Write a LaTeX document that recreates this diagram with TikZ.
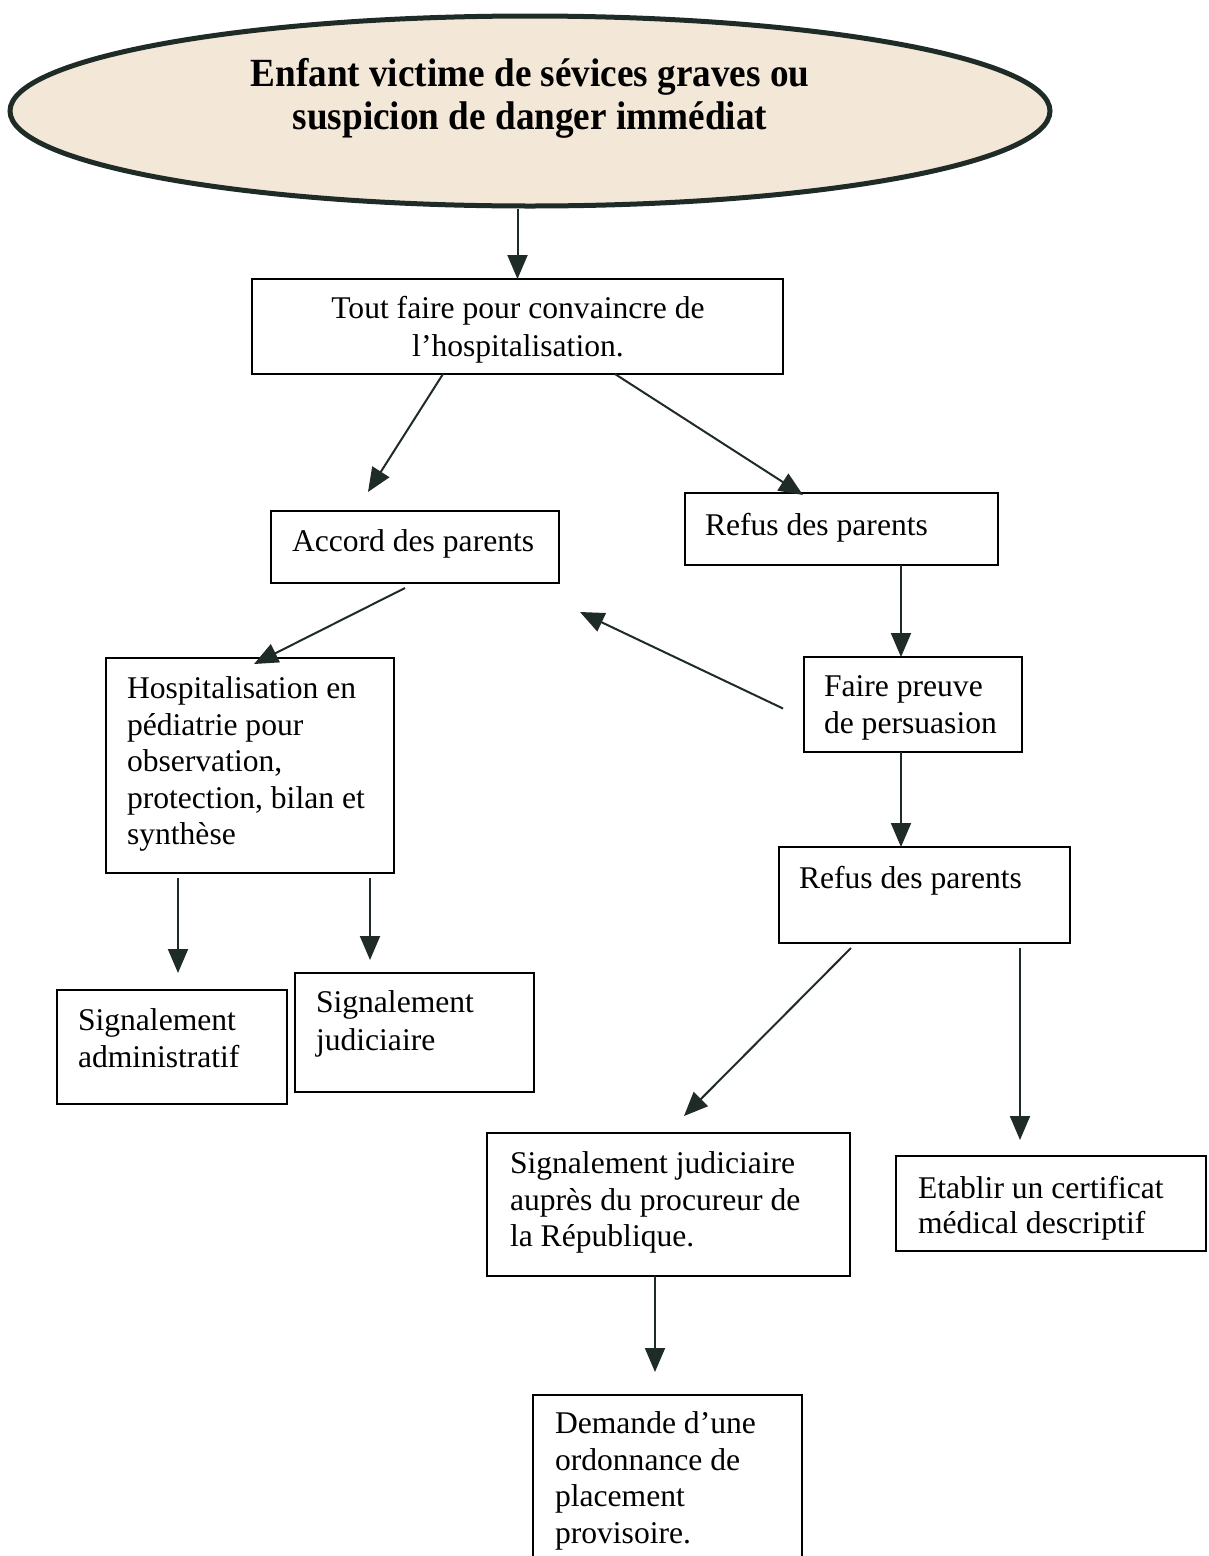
\documentclass[tikz,border=0pt]{standalone}
\usepackage{fontspec}
\setmainfont{Liberation Serif}
\newfontfamily\titlefont[FakeStretch=0.93]{Liberation Serif}
\usetikzlibrary{shapes.geometric,arrows.meta}
\definecolor{inkc}{HTML}{1F2B26}
\definecolor{beige}{HTML}{F3E7D8}
\tikzset{
  box/.style={draw=black, line width=2pt, rectangle, inner sep=0pt, outer sep=0pt},
  txt/.style={inner sep=0pt, outer sep=0pt, align=left, anchor=north west, font=\fontsize{31.6}{36.5}\selectfont},
  arr/.style={draw=inkc, line width=2pt, -{Triangle[length=24pt,width=20pt]}},
}
\begin{document}
\begin{tikzpicture}[x=1pt,y=-1pt]
\useasboundingbox (0,0) rectangle (1209,1556);
\clip (0,0) rectangle (1209,1556);
% ellipse
\node[ellipse, draw=inkc, line width=5pt, fill=beige, minimum width=1040pt, minimum height=190pt, inner sep=0pt] (ell) at (530,111) {};
\node[inner sep=0pt, align=center, font=\titlefont\bfseries\fontsize{40}{43}\selectfont] (title) at (530,98) {Enfant victime de sévices graves ou\\suspicion de danger immédiat};
% boxes
\node[box, minimum width=531pt, minimum height=95pt] (b1) at (517.5,326.5) {};
\node[box, minimum width=288pt, minimum height=72pt] (acc) at (415,547) {};
\node[box, minimum width=313pt, minimum height=72pt] (ref1) at (841.5,529) {};
\node[box, minimum width=288pt, minimum height=215pt] (hosp) at (250,765.5) {};
\node[box, minimum width=218pt, minimum height=95pt] (faire) at (913,704.5) {};
\node[box, minimum width=291pt, minimum height=96pt] (ref2) at (924.5,895) {};
\node[box, minimum width=230pt, minimum height=114pt] (sadm) at (172,1047) {};
\node[box, minimum width=239pt, minimum height=119pt] (sjud) at (414.5,1032.5) {};
\node[box, minimum width=363pt, minimum height=143pt] (sproc) at (668.5,1204.5) {};
\node[box, minimum width=310pt, minimum height=95pt] (cert) at (1051,1203.5) {};
\node[box, minimum width=269pt, minimum height=205pt] (dem) at (667.5,1497.5) {};
% texts
\node[txt, anchor=north, align=center, font=\fontsize{31.6}{38}\selectfont] (tb1) at (518,296) {Tout faire pour convaincre de\\l’hospitalisation.};
\node[txt] (tacc) at (292,530) {Accord des parents};
\node[txt] (tref1) at (705,513) {Refus des parents};
\node[txt] (thosp) at (127,677) {Hospitalisation en\\pédiatrie pour\\observation,\\protection, bilan et\\synthèse};
\node[txt] (tfaire) at (824,676) {Faire preuve\\de persuasion};
\node[txt] (tref2) at (799,866) {Refus des parents};
\node[txt] (tsadm) at (78,1009) {Signalement\\administratif};
\node[txt, font=\fontsize{31.6}{38}\selectfont] (tsjud) at (316,991) {Signalement\\judiciaire};
\node[txt] (tsproc) at (510,1152) {Signalement judiciaire\\auprès du procureur de\\la République.};
\node[txt, font=\fontsize{31.6}{35}\selectfont] (tcert) at (918,1176) {Etablir un certificat\\médical descriptif};
\node[txt] (tdem) at (555,1412) {Demande d’une\\ordonnance de\\placement\\provisoire.};
% free arrow ends
\coordinate (e1) at (368,492);
\coordinate (e2) at (803,495);
\coordinate (e3) at (254,664);
\coordinate (e4) at (580,612);
\coordinate (e5) at (178,973);
\coordinate (e6) at (370,960);
\coordinate (e7) at (684,1116);
\coordinate (e8) at (1020,1140);
\coordinate (e9) at (655,1372);
% arrows
\draw[arr] (ell.south -| b1.north) -- (b1.north);
\draw[arr] ([xshift=-74.5pt]b1.south) -- (e1);
\draw[arr] ([xshift=97.5pt]b1.south) -- (e2);
\draw[arr] ([xshift=-10pt,yshift=-5pt]acc.south) -- (e3);
\draw[arr] ([xshift=59.5pt]ref1.south) -- ([xshift=-12pt]faire.north);
\draw[arr] ([xshift=-21pt,yshift=-4pt]faire.west) -- (e4);
\draw[arr] ([xshift=-12pt]faire.south) -- ([xshift=-23.5pt]ref2.north);
\draw[arr] ([xshift=-72pt,yshift=-5pt]hosp.south) -- (e5);
\draw[arr] ([xshift=120pt,yshift=-5pt]hosp.south) -- (e6);
\draw[arr] ([xshift=-73.5pt,yshift=-5pt]ref2.south) -- (e7);
\draw[arr] ([xshift=95.5pt,yshift=-5pt]ref2.south) -- (e8);
\draw[arr] ([xshift=-13.5pt]sproc.south) -- (e9);
\end{tikzpicture}
\end{document}
